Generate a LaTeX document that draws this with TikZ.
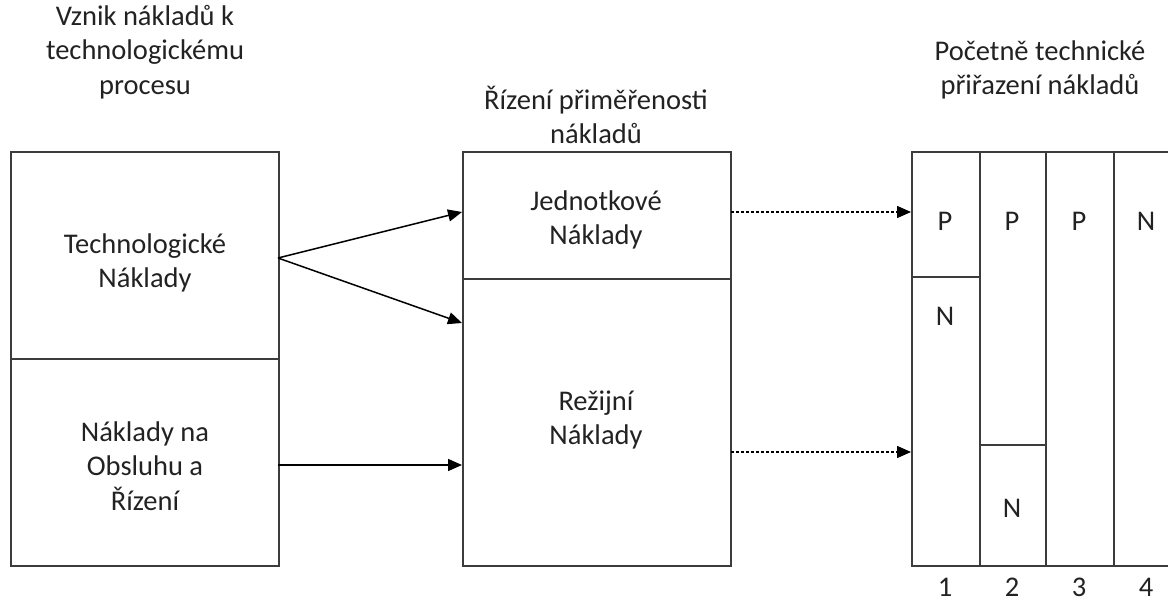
\documentclass[tikz,border=0pt]{standalone}
\usepackage{fontspec}
\setmainfont{Carlito}
\usetikzlibrary{arrows.meta}
\definecolor{linec}{HTML}{3C3C3C}
\definecolor{textc}{HTML}{222222}
\tikzset{
  cell/.style={draw=linec, line width=1.6pt, rectangle, inner sep=0pt, anchor=north west},
  lbl/.style={align=center, font=\fontsize{28.5}{34.5}\selectfont, text=textc, inner sep=0pt},
  arr/.style={draw=black, line width=1.5pt, -{Triangle[length=14pt,width=12pt]}},
  darr/.style={arr, dash pattern=on 3pt off 2pt}
}
\begin{document}
\begin{tikzpicture}[x=1pt,y=-1pt]
\useasboundingbox (0,0) rectangle (1168,605);
\clip (0,0) rectangle (1168,605);
% left
\node[cell, minimum width=268pt, minimum height=207pt] (ltop) at (10,151) {};
\node[cell, minimum width=268pt, minimum height=207pt] (lbot) at (10,358) {};
% middle
\node[cell, minimum width=268pt, minimum height=127pt] (mtop) at (462,151) {};
\node[cell, minimum width=268pt, minimum height=287pt] (mbot) at (462,278) {};
% right
\node[cell, minimum width=68pt, minimum height=125pt] (c1t) at (911,151) {};
\node[cell, minimum width=68pt, minimum height=289pt] (c1b) at (911,276) {};
\node[cell, minimum width=66pt, minimum height=293pt] (c2t) at (979,151) {};
\node[cell, minimum width=66pt, minimum height=121pt] (c2b) at (979,444) {};
\node[cell, minimum width=68pt, minimum height=414pt] (c3) at (1045,151) {};
\node[cell, minimum width=68pt, minimum height=414pt] (c4) at (1113,151) {};
% titles
\node[lbl] (t1) at (145,52) {Vznik nákladů k\\technologickému\\procesu};
\node[lbl] (t2) at (596,115) {Řízení přiměřenosti\\nákladů};
\node[lbl] (t3) at (1040,70) {Početně technické\\přiřazení nákladů};
% texts
\node[lbl] (x1) at (145,263) {Technologické\\Náklady};
\node[lbl] (x2) at (145,466) {Náklady na\\Obsluhu a\\Řízení};
\node[lbl] (x3) at (596,220) {Jednotkové\\Náklady};
\node[lbl] (x4) at (596,420) {Režijní\\Náklady};
\node[lbl] (p1) at (945,221) {P};
\node[lbl] (n1) at (945,316) {N};
\node[lbl] (p2) at (1012,221) {P};
\node[lbl] (n2) at (1012,508) {N};
\node[lbl] (p3) at (1079,221) {P};
\node[lbl] (n4) at (1146,221) {N};
\node[lbl] (k1) at (945,587) {1};
\node[lbl] (k2) at (1012,587) {2};
\node[lbl] (k3) at (1079,587) {3};
\node[lbl] (k4) at (1146,587) {4};
% connector points
\coordinate (s1) at (278,258);
\coordinate (e1) at (462,212);
\coordinate (e2) at (462,323);
\coordinate (s3) at (278,465);
\coordinate (e3) at (462,465);
\coordinate (s4) at (731,212);
\coordinate (e4) at (911,212);
\coordinate (s5) at (731,452);
\coordinate (e5) at (911,452);
\draw[arr] (s1) -- (e1);
\draw[arr] (s1) -- (e2);
\draw[arr] (s3) -- (e3);
\draw[darr] (s4) -- (e4);
\draw[darr] (s5) -- (e5);
\end{tikzpicture}
\end{document}
